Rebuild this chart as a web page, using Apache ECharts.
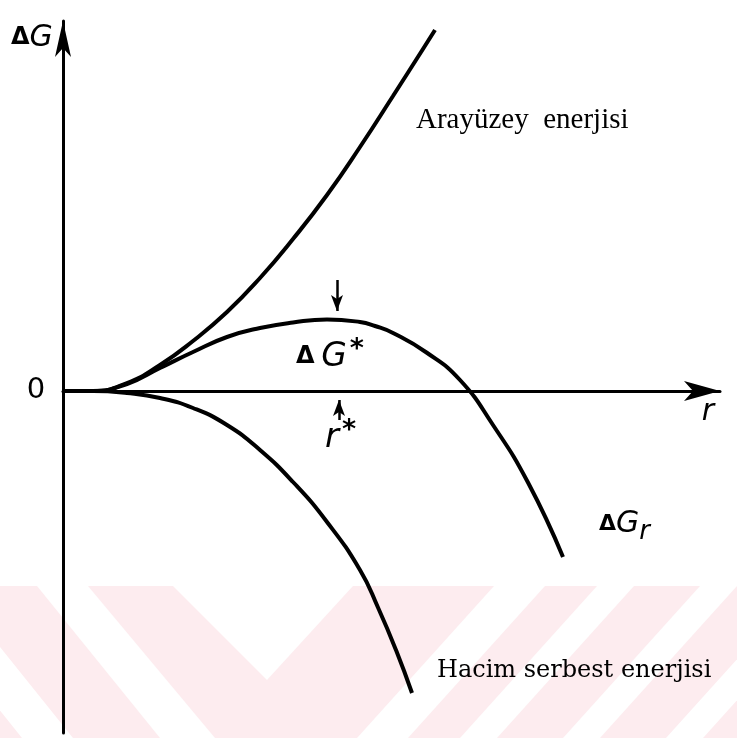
<!DOCTYPE html>
<html>
<head>
<meta charset="utf-8">
<script src="https://cdn.jsdelivr.net/npm/echarts@6/dist/echarts.min.js"></script>
<style>
  html, body { margin: 0; padding: 0; background: #fff; }
  #chart { width: 737px; height: 738px; }
</style>
</head>
<body>
<div id="chart"></div>
<script>
// r (yarıçap) and ΔG values, arbitrary units
var arayuzey = [
  [0, 0], [0.6, 0], [1.28, 0.16], [1.94, 0.52], [2.6, 1.0], [3.28, 1.58],
  [3.94, 2.26], [4.6, 3.04], [5.28, 3.92], [5.94, 4.88], [6.6, 5.9],
  [7.2, 6.84], [7.44, 7.22]
]
var hacim = [
  [0, 0], [0.6, 0], [1.28, -0.04], [1.94, -0.14], [2.6, -0.34], [3.28, -0.68],
  [3.94, -1.18], [4.6, -1.82], [5.28, -2.62], [5.94, -3.58], [6.3, -4.33],
  [6.66, -5.18], [6.98, -6.04]
]
var dGr = [
  [0, 0], [0.6, 0], [1.28, 0.14], [1.94, 0.46], [2.6, 0.78], [3.28, 1.08],
  [3.94, 1.26], [4.6, 1.37], [5.28, 1.43], [5.94, 1.38], [6.24, 1.3],
  [6.6, 1.16], [7.27, 0.77], [7.94, 0.22], [8.6, -0.68], [9.3, -1.83],
  [10.0, -3.32]
]
var rStar = 5.48
var arrowDown = [[rStar, 2.22], [rStar, 1.6]]
var arrowUp = [[rStar + 0.04, -0.58], [rStar + 0.04, -0.18]]

var chart = echarts.init(document.getElementById('chart'))

function curve (data) {
  return {
    type: 'line',
    data: data,
    smooth: true,
    showSymbol: false,
    symbol: 'none',
    silent: true,
    lineStyle: { color: '#000', width: 4 }
  }
}

function pointer (data) {
  return {
    type: 'line',
    data: [],
    silent: true,
    markLine: {
      silent: true,
      animation: false,
      symbol: ['none', 'arrow'],
      symbolSize: [9, 16],
      label: { show: false },
      lineStyle: { color: '#000', width: 2.5, type: 'solid' },
      data: [[{ coord: data[0] }, { coord: data[1] }]]
    }
  }
}

// watermark stripes (light pink band at the bottom)
var pink = '#fdecef'
var stripes = [
  [[-100, 586], [-49, 586], [73, 738], [22, 738]],
  [[37, 586], [88, 586], [215, 738], [160, 738]],
  [[173, 586], [353, 586], [267, 680]],
  [[494, 586], [545, 586], [408, 738], [357, 738]],
  [[597, 586], [634, 586], [497, 738], [460, 738]],
  [[700, 586], [737, 586], [600, 738], [563, 738]],
  [[803, 586], [840, 586], [703, 738], [666, 738]]
]
var graphics = [{
  type: 'rect', z: -10, silent: true,
  shape: { x: 0, y: 586, width: 737, height: 152 },
  style: { fill: pink }
}]
stripes.forEach(function (pts) {
  graphics.push({ type: 'polygon', z: -9, silent: true, shape: { points: pts }, style: { fill: '#fff' } })
})

var sans = 'DejaVu Sans'
function txt (x, y, text, style) {
  return {
    type: 'text', x: x, y: y, z: 10, silent: true,
    style: Object.assign({ text: text, fill: '#000', verticalAlign: 'middle', textAlign: 'left' }, style)
  }
}
var rich = {
  d: { fontFamily: sans, fontSize: 24, fontWeight: 'bold' },
  g: { fontFamily: sans, fontSize: 33, fontStyle: 'italic' },
  s: { fontFamily: sans, fontSize: 27, fontWeight: 'bold', verticalAlign: 'top', padding: [0, 0, 14, 3] },
  r: { fontFamily: sans, fontSize: 34, fontStyle: 'italic' },
  sub: { fontFamily: sans, fontSize: 26, fontStyle: 'italic', padding: [16, 0, 0, 0] }
}
graphics.push(
  txt(11, 38, '{d|Δ}{g|G}', { rich: { d: { fontFamily: sans, fontSize: 24, fontWeight: 'bold' }, g: { fontFamily: sans, fontSize: 30, fontStyle: 'italic' } } }),
  txt(36, 390, '0', { font: '29px "DejaVu Sans"', textAlign: 'center' }),
  txt(708, 412, 'r', { font: 'italic 30px "DejaVu Sans"', textAlign: 'center' }),
  txt(296, 357, '{d|Δ}  {g|G}{s|*}', { rich: rich }),
  txt(325, 438, '{r|r}{s|*}', { rich: rich }),
  txt(599, 524, '{d|Δ}{g|G}{sub|r}', { rich: { d: { fontFamily: sans, fontSize: 22, fontWeight: 'bold' }, g: { fontFamily: sans, fontSize: 30, fontStyle: 'italic' }, sub: rich.sub } }),
  txt(416, 120, 'Arayüzey  enerjisi', { font: '29px "Liberation Serif"' }),
  txt(437, 671, 'Hacim serbest enerjisi', { font: '24px "DejaVu Serif"' })
)

chart.setOption({
  animation: false,
  backgroundColor: '#fff',
  graphic: graphics,
  grid: { left: 63, right: 17, top: 21, bottom: 5 },
  xAxis: {
    type: 'value',
    min: 0,
    max: 13.14,
    axisLine: {
      show: true,
      symbol: ['none', 'arrow'],
      symbolSize: [15, 36],
      lineStyle: { color: '#000', width: 3 }
    },
    axisTick: { show: false },
    axisLabel: { show: false },
    splitLine: { show: false }
  },
  yAxis: {
    type: 'value',
    min: -6.84,
    max: 7.4,
    axisLine: {
      show: true,
      symbol: ['none', 'arrow'],
      symbolSize: [12, 36],
      lineStyle: { color: '#000', width: 3 }
    },
    axisTick: { show: false },
    axisLabel: { show: false },
    splitLine: { show: false }
  },
  series: [
    curve(arayuzey),
    curve(hacim),
    curve(dGr),
    pointer(arrowDown),
    pointer(arrowUp)
  ]
})
</script>
</body>
</html>
